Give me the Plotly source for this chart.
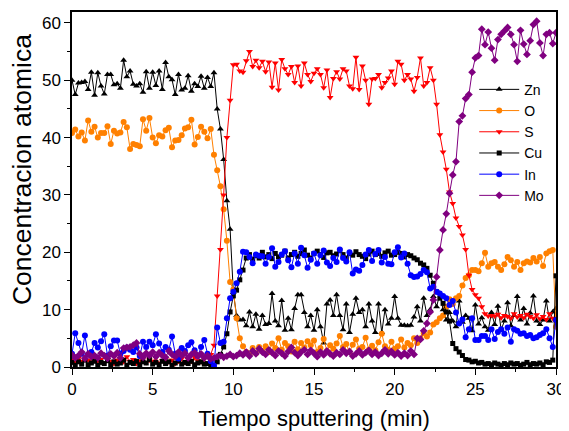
import plotly.graph_objects as go

# sampling times, one point every 0.2 min
tiempo = [round(0.2 * i, 1) for i in range(151)]

zn = [50.0, 47.5, 49.5, 49.6, 49.8, 48.4, 51.4, 47.4, 51.3, 49.0,
      47.6, 51.0, 51.0, 49.2, 49.4, 48.6, 53.5, 50.6, 51.6, 49.3,
      49.0, 49.4, 47.9, 51.5, 48.6, 51.4, 49.1, 51.6, 48.4, 53.1,
      50.6, 50.1, 47.5, 51.0, 48.3, 48.6, 50.8, 48.1, 49.4, 48.9,
      50.7, 48.6, 50.5, 48.9,
      51.3, 45.0, 41.5, 36.2, 29.0, 24.0,
      13.0, 9.0, 8.2, 8.3, 7.2, 9.6, 7.0, 9.2, 6.6, 9.0,
      7.4, 7.6, 12.8, 8.0, 7.2, 11.6, 6.4, 8.5, 6.5, 10.2,
      12.6, 12.6, 9.5, 7.0, 9.0, 6.4, 10.0, 7.0, 4.2, 11.0,
      11.7, 9.0, 12.6, 9.0, 6.5, 11.0, 6.0, 9.2, 12.0, 9.5,
      10.0, 7.0, 11.0, 8.0, 6.0, 11.0, 6.0, 10.0, 7.5, 8.5,
      12.3, 8.5, 7.3, 7.3, 7.2, 7.3, 8.7, 10.5, 8.0, 12.0,
      9.0, 10.0, 12.3, 10.5, 12.8, 10.0, 8.2, 9.5, 8.0, 7.0,
      11.5, 7.8, 9.0, 8.5, 6.3, 10.8, 7.5, 8.6, 7.0, 6.4,
      9.5, 7.4, 10.6, 6.5, 8.0, 11.2, 7.2, 9.0, 12.3, 8.2,
      10.2, 7.5, 9.4, 12.4, 8.0, 7.4, 8.2, 11.5, 8.0, 9.6,
      10.2]

o = [40.8, 41.4, 40.2, 40.9, 39.5, 43.0, 41.0, 41.9, 40.0, 40.8,
     40.8, 42.0, 38.9, 41.2, 40.7, 40.9, 42.7, 41.8, 38.0, 38.9,
     38.7, 38.5, 43.2, 41.2, 43.4, 40.0, 39.0, 40.4, 40.2, 41.3,
     41.7, 38.3, 39.5, 39.6, 40.4, 41.6, 41.8, 43.1, 38.8, 40.1,
     41.9, 41.0, 39.9,
     41.5, 37.0, 34.3, 31.5, 27.5, 22.0, 14.8, 13.5, 8.5, 5.0, 3.6,
     2.6, 2.2, 3.3, 2.4, 3.5, 2.8, 3.6, 2.6, 4.1, 3.3,
     5.0, 3.0, 4.2, 3.6, 2.7, 4.4, 3.1, 4.2, 3.4, 4.5,
     3.8, 4.6, 2.6, 3.3, 4.9, 2.8, 3.8, 3.2, 4.1, 5.4,
     3.5, 4.0, 2.6, 3.9, 4.8, 3.2, 3.5, 5.1, 3.0, 3.7,
     2.9, 4.3, 5.8, 3.6, 3.0, 4.4, 3.2, 3.6, 4.8, 3.4,
     4.2, 3.8, 5.0, 4.2, 5.0, 5.9, 5.3, 6.0, 7.4, 7.8,
     8.5, 9.0, 10.5, 11.8, 11.0, 12.0, 12.4, 14.2, 15.5, 16.0,
     16.9, 16.9, 16.7, 18.1, 19.9, 17.5, 18.1, 18.3, 17.5, 16.9,
     17.9, 19.2, 18.6, 17.5, 18.3, 16.9, 18.1, 18.4, 18.2, 19.0,
     18.4, 19.2, 17.6, 19.8, 20.2, 20.4, 7.0]

s = [1.2, 0.8, 1.5, 1.0, 1.8, 1.2, 0.9, 1.6, 1.1, 1.3,
     0.7, 1.4, 1.0, 0.6, 1.2, 1.5, 0.9, 1.8, 1.0, 1.3,
     0.6, 1.1, 1.5, 0.8, 1.2, 1.0, 1.6, 0.7, 1.1, 1.4,
     0.9, 1.2, 0.6, 1.0, 1.5, 0.8, 1.3, 1.0, 1.7, 1.1,
     0.9, 1.4, 2.0,
     2.2, 3.8, 12.4, 20.5, 30.0, 40.0, 46.5,
     52.7, 52.8, 51.6, 51.4, 53.4, 55.0, 52.4, 53.5, 52.2, 53.3,
     51.5, 53.2, 48.8, 53.0, 48.3, 53.6, 52.0, 51.0, 52.4, 49.6,
     52.5, 49.0, 53.0, 51.0, 49.8, 51.2, 52.0, 51.0, 48.7, 51.8,
     47.0, 50.3, 51.5, 50.2, 52.0, 51.6, 49.0, 48.5, 54.0, 48.4,
     52.5, 50.0, 45.8, 50.2, 50.3, 51.0, 48.7, 49.6, 50.4, 51.6,
     49.3, 53.3, 52.8, 50.0, 51.0, 50.2, 48.1, 50.5, 53.9, 49.0,
     49.6, 52.2, 50.0,
     45.8, 40.5, 37.5, 34.5, 30.5, 28.5, 26.0, 24.5, 23.0, 20.5,
     16.0, 13.5, 12.6, 12.0, 10.5, 9.3, 8.9, 9.0, 8.9, 9.2,
     8.6, 9.0, 8.8, 8.5, 9.3, 8.7, 9.0, 8.6, 9.2, 8.8,
     8.5, 9.1, 8.4, 8.8, 8.3, 9.3, 8.5, 7.8]

cu = [0.8, 0.3, 0.9, 0.5, 1.2, 0.4, 0.7, 1.0, 0.3, 0.8,
      0.6, 1.1, 0.4, 0.9, 0.5, 0.7, 1.2, 0.3, 0.8, 0.6,
      1.0, 0.4, 0.9, 0.7, 1.3, 0.5, 0.8, 0.4, 1.0, 0.6,
      0.9, 0.3, 0.7, 1.1, 0.5, 0.8, 0.6, 1.0, 0.4, 0.7,
      0.9, 0.5, 0.6, 0.4,
      0.3, 0.9, 2.2, 3.5, 5.8, 9.6,
      12.4, 13.4, 15.2, 16.9, 19.0,
      19.6, 18.8, 19.4, 19.0, 20.0, 19.2, 19.6, 18.9, 19.8, 19.2,
      19.5, 20.2, 19.0, 19.6, 20.0, 19.3, 19.8, 20.4, 19.5, 19.0,
      19.8, 20.2, 19.6, 19.1, 19.9, 20.0, 19.4, 19.7, 20.3, 19.6,
      19.0, 19.8, 19.5, 20.1, 19.6, 19.3, 18.9, 19.7, 20.2, 19.6,
      19.8, 19.3, 19.9, 20.2, 19.5, 19.6, 20.0, 19.8, 19.2, 19.6,
      19.4, 19.0, 18.7,
      18.1, 17.8, 17.2, 16.0, 14.6, 13.1, 12.0, 11.1, 9.6, 8.0,
      4.1, 3.2,
      2.6, 2.0, 1.3, 1.2, 0.9, 1.0, 0.7, 0.8, 0.5, 0.6,
      0.4, 0.7, 0.5, 0.3, 0.6, 0.4, 0.7, 0.5, 0.6, 0.3,
      0.5, 0.8, 0.4, 0.6, 0.5, 0.7, 0.4, 0.9, 0.8, 1.2,
      15.9]

inn = [2.3, 5.9, 4.2, 2.3, 5.5, 2.2, 2.6, 4.2, 3.4, 4.5,
       5.7, 2.0, 3.6, 4.6, 4.6, 2.3, 2.8, 3.4, 3.0, 2.6,
       3.4, 1.9, 4.4, 3.5, 4.4, 3.8, 5.7, 4.1, 2.6, 3.5,
       3.0, 5.3, 2.3, 1.5, 3.3, 2.8, 3.8, 4.3, 2.9, 1.9,
       3.5, 4.7, 2.3, 1.0,
       0.2, 6.9, 4.2, 4.4, 8.5, 12.0,
       13.1, 14.6, 16.6,
       20.1, 20.0, 19.2, 18.1, 19.6, 19.4, 19.3, 18.0, 19.2, 20.7,
       17.5, 18.3, 19.6, 20.2, 18.6, 17.4, 19.8, 18.0, 20.8, 19.5,
       17.3, 18.7, 19.8, 18.0, 19.5, 20.3, 18.2, 17.6, 19.0, 18.3,
       20.5, 19.0, 18.4, 20.0, 16.3, 17.0, 16.8, 17.8, 19.6, 20.4,
       18.5, 19.7, 20.4, 18.2, 19.2, 18.0, 17.9, 20.0, 20.9, 19.1,
       19.8, 18.0, 16.0, 15.7,
       15.8, 16.2, 16.9, 16.5, 13.7, 14.0, 13.1,
       12.8, 12.4, 12.0, 10.8, 11.5, 9.5, 7.6, 8.3, 5.2, 6.6,
       8.5, 4.7, 4.7, 5.4, 5.4, 4.7, 6.6, 4.9, 6.1, 6.6,
       5.8, 6.9, 4.4, 6.6, 6.3, 5.8, 5.9, 5.4, 5.6, 5.0,
       5.2, 5.6, 5.9, 6.6, 5.0, 3.5, 8.2]

mo = [2.1, 1.6, 2.0, 2.6, 1.5, 2.3, 1.8, 2.0, 1.6, 2.4,
      2.0, 1.5, 2.3, 1.9, 2.5, 1.6, 3.3, 3.4, 3.5, 3.8,
      4.2, 2.3, 1.7, 2.4, 2.0, 2.6, 1.8, 2.5, 2.0, 1.7,
      2.8, 2.2, 1.8, 2.6, 2.0, 2.4, 1.6, 2.2, 2.5, 1.9,
      2.3, 1.6, 2.0, 1.4,
      1.6, 1.8, 2.0, 1.7, 1.9, 2.2, 1.8, 2.0, 2.4, 2.1,
      2.6, 1.9, 2.8, 2.3, 3.2, 2.6, 2.2, 3.0, 2.5, 2.0,
      2.8, 2.4, 1.9, 2.7, 3.4, 2.5, 2.0, 2.6, 3.0, 2.2,
      2.9, 2.4, 1.8, 2.6, 2.1, 2.8, 2.3, 1.9, 2.5, 2.2,
      3.0, 2.4, 2.7, 1.9, 2.3, 2.8, 2.1, 2.5, 2.9, 2.2,
      2.6, 2.0, 2.4, 3.0, 2.3, 2.7, 2.1, 2.5, 1.9, 2.4,
      2.0, 2.8, 2.2,
      5.0, 4.8, 6.3, 7.6, 9.6, 11.7, 15.7, 20.4, 23.9, 26.7,
      30.3, 33.5, 35.8, 42.8, 43.8, 46.8, 47.5, 51.4, 53.9, 54.3,
      58.9, 56.2, 58.4, 55.6, 53.5, 57.1, 58.0, 58.6, 59.2, 58.0,
      56.2, 53.3, 58.7, 56.3, 54.5, 56.9, 59.7, 60.3, 56.5, 54.3,
      58.0, 58.3, 56.4, 58.3]

series = [
    ("Zn", zn, "#000000", "triangle-up", 6),
    ("O", o, "#FF8000", "circle", 6),
    ("S", s, "#FF0000", "triangle-down", 6),
    ("Cu", cu, "#000000", "square", 5),
    ("In", inn, "#0000FF", "circle", 6),
    ("Mo", mo, "#800080", "diamond", 6),
]

fig = go.Figure()
for name, vals, color, sym, size in series:
    assert len(vals) == len(tiempo), (name, len(vals))
    fig.add_scatter(x=tiempo, y=vals, name=name, mode="lines+markers",
                    line=dict(color=color, width=1),
                    marker=dict(symbol=sym, size=size, color=color))

axis_common = dict(showline=True, linecolor="black", linewidth=1.5, mirror=True,
                   ticks="outside", ticklen=6, tickwidth=1.2, tickcolor="black",
                   showgrid=False, zeroline=False, automargin=False,
                   tickfont=dict(size=17, color="black"))

fig.update_xaxes(range=[0, 30], dtick=5, tick0=0,
                 minor=dict(dtick=2.5, ticks="outside", ticklen=3, tickcolor="black"),
                 title=dict(text="Tiempo sputtering (min)", font=dict(size=22, color="black"),
                            standoff=14),
                 **axis_common)
fig.update_yaxes(range=[0, 61.9], dtick=10, tick0=0,
                 minor=dict(dtick=5, ticks="outside", ticklen=3, tickcolor="black"),
                 **axis_common)

# y title sits a bit above the centre of the axis in the original
fig.add_annotation(text="Concentracion atomica", textangle=-90,
                   xref="paper", yref="paper", x=-0.103, y=0.555,
                   xanchor="center", yanchor="middle", showarrow=False,
                   font=dict(size=26.5, color="black"))

# the page body has an 8 px margin, so the figure is offset by 8 px
fig.update_layout(width=561, height=423,
                  margin=dict(l=64, r=13, t=4, b=64),
                  paper_bgcolor="white", plot_bgcolor="white",
                  font=dict(family="Arial, Liberation Sans, sans-serif", color="black"),
                  legend=dict(x=0.831, y=0.826, xanchor="left", yanchor="top",
                              bgcolor="rgba(0,0,0,0)", font=dict(size=14),
                              tracegroupgap=0, itemwidth=40))

fig.write_html("out.html")
